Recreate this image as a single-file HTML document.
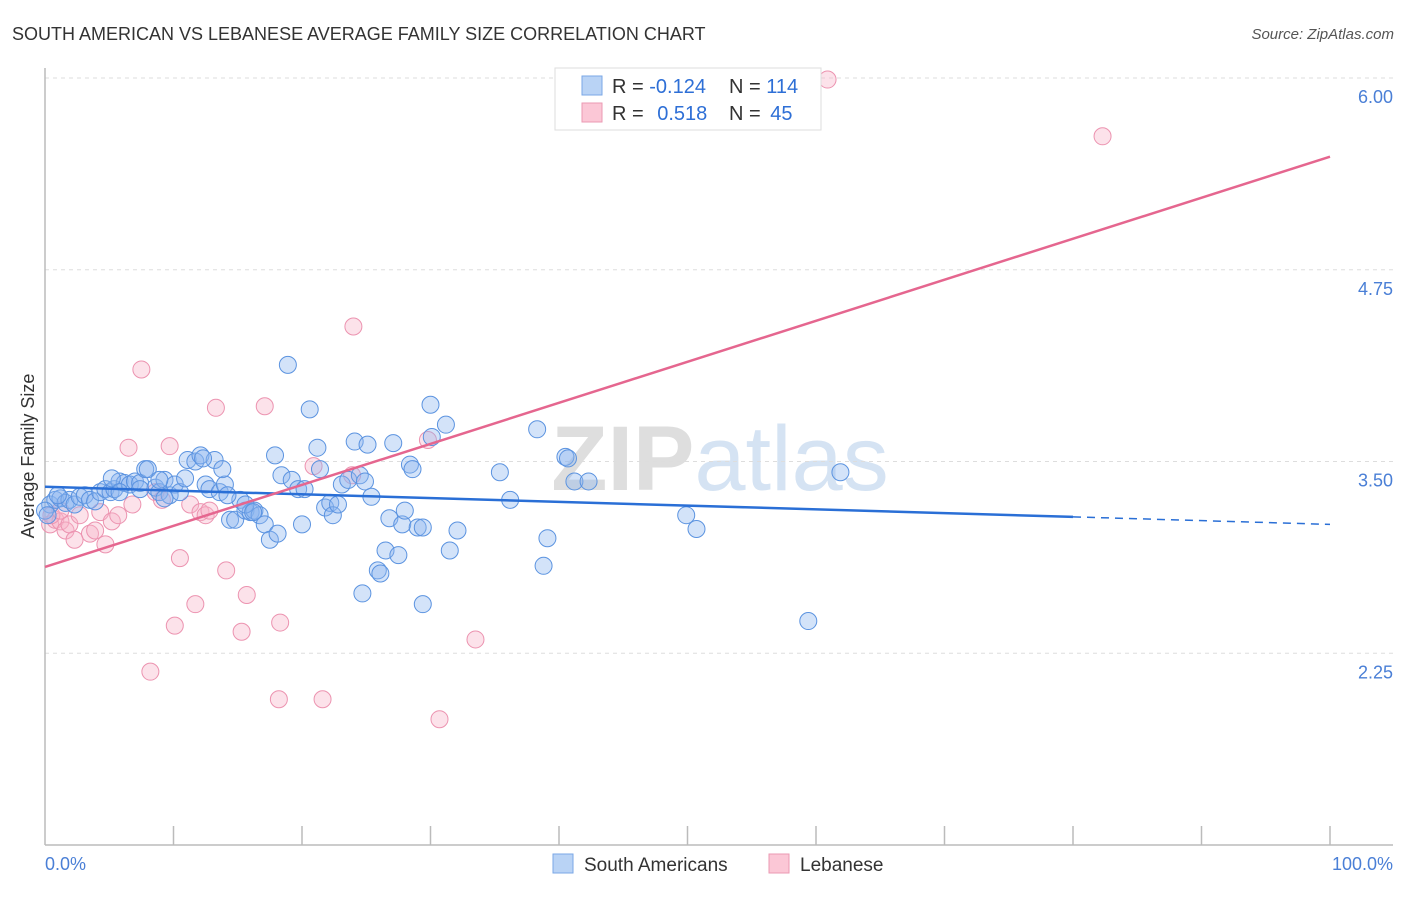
<!DOCTYPE html>
<html><head><meta charset="utf-8"><style>
body{margin:0;background:#fff;font-family:"Liberation Sans",sans-serif;}
svg text{font-family:"Liberation Sans",sans-serif;}
</style></head><body>
<svg id="chart" width="1406" height="892" xmlns="http://www.w3.org/2000/svg">
<text x="12" y="40" font-size="18" fill="#333">SOUTH AMERICAN VS LEBANESE AVERAGE FAMILY SIZE CORRELATION CHART</text>
<text x="1394" y="39" font-size="15" fill="#555" font-style="italic" text-anchor="end">Source: ZipAtlas.com</text>
<text x="720" y="490" font-size="92" text-anchor="middle" fill="#e6e6e6" font-family="Liberation Serif"><tspan font-weight="bold" fill="#dedede">ZIP</tspan><tspan fill="#d5e3f3" font-family="Liberation Sans">atlas</tspan></text>
<g id="grid"></g>
<g id="axes"></g>
<g id="pinkpts"></g>
<g id="bluepts"></g>
<g id="lines"></g>
<text transform="translate(34,456) rotate(-90)" font-size="18" fill="#333" text-anchor="middle">Average Family Size</text>
<text x="45" y="870" font-size="18" fill="#4a7fd6">0.0%</text>
<text x="1393" y="870" font-size="18" fill="#4a7fd6" text-anchor="end">100.0%</text>
<g>
<rect x="555" y="68" width="266" height="62" fill="#fff" stroke="#ddd"/>
<rect x="582" y="76" width="20" height="19" fill="#b9d3f5" stroke="#7aa7e6"/>
<rect x="582" y="103" width="20" height="19" fill="#fbc7d6" stroke="#eb9ab3"/>
<text x="612" y="93" font-size="20" fill="#333">R = <tspan fill="#2e6fd6">-0.124</tspan></text>
<text x="729" y="93" font-size="20" fill="#333">N = <tspan fill="#2e6fd6">114</tspan></text>
<text x="612" y="120" font-size="20" fill="#333">R = <tspan fill="#2e6fd6" dx="8">0.518</tspan></text>
<text x="729" y="120" font-size="20" fill="#333">N = <tspan fill="#2e6fd6" dx="4">45</tspan></text>
</g>
<g>
<rect x="553" y="854" width="20" height="19" fill="#b9d3f5" stroke="#7aa7e6"/>
<text x="584" y="871" font-size="19" fill="#333">South Americans</text>
<rect x="769" y="854" width="20" height="19" fill="#fbc7d6" stroke="#eb9ab3"/>
<text x="800" y="871" font-size="19" fill="#333">Lebanese</text>
</g>
</svg>
<script>
const yTicks=[6.00,4.75,3.50,2.25];
const yTickLabels=["6.00","4.75","3.50","2.25"];
const blueX=[0.4,0.8,1.2,1.6,1.9,2.3,2.7,3.1,3.5,3.9,4.3,4.7,5.1,5.4,5.8,6.2,6.6,7.0,7.4,7.8,8.0,8.6,8.9,9.3,9.7,10.1,10.5,10.9,11.1,11.7,12.1,12.5,12.8,13.2,13.6,14.0,14.4,14.8,15.2,15.6,16.0,16.3,16.7,17.1,17.5,17.9,18.1,18.4,18.9,19.2,19.7,20.0,20.2,20.6,21.2,21.4,21.8,22.2,22.4,22.8,23.1,23.6,24.1,24.5,24.9,25.1,25.4,25.9,26.1,26.5,26.8,27.1,27.5,27.8,28.0,28.4,28.6,29.0,29.4,29.4,30.0,30.1,31.2,31.5,32.1,35.4,36.2,38.3,38.8,39.1,40.5,40.7,41.2,42.3,49.9,50.7,59.4,61.9,24.7,0.0,0.2,1.0,5.2,5.8,12.3,13.8,14.2,15.6,16.2,7.4,8.9,9.3];
const blueY=[3.22,3.25,3.26,3.23,3.25,3.22,3.27,3.28,3.25,3.24,3.30,3.32,3.30,3.32,3.37,3.36,3.35,3.37,3.36,3.45,3.45,3.33,3.30,3.38,3.28,3.35,3.30,3.39,3.51,3.50,3.54,3.35,3.32,3.51,3.30,3.35,3.12,3.12,3.25,3.18,3.17,3.18,3.15,3.09,2.99,3.54,3.03,3.41,4.13,3.38,3.32,3.09,3.32,3.84,3.59,3.45,3.20,3.23,3.15,3.22,3.35,3.38,3.63,3.41,3.37,3.61,3.27,2.79,2.77,2.92,3.13,3.62,2.89,3.09,3.18,3.48,3.45,3.07,3.07,2.57,3.87,3.66,3.74,2.92,3.05,3.43,3.25,3.71,2.82,3.00,3.53,3.52,3.37,3.37,3.15,3.06,2.46,3.43,2.64,3.18,3.15,3.28,3.39,3.30,3.52,3.45,3.28,3.22,3.17,3.32,3.38,3.26];
const pinkX=[0.4,0.8,1.2,1.6,1.9,2.3,2.7,3.5,3.9,4.3,4.7,5.2,5.7,6.5,6.8,7.5,8.2,8.6,9.1,9.7,10.1,10.5,11.3,11.7,12.1,12.5,12.8,13.3,14.1,15.3,15.7,17.1,18.2,18.3,20.9,21.6,23.9,24.0,29.8,30.7,33.5,60.9,82.3,0.5,1.2];
const pinkY=[3.09,3.12,3.11,3.05,3.09,2.99,3.15,3.03,3.05,3.17,2.96,3.11,3.15,3.59,3.22,4.10,2.13,3.30,3.25,3.60,2.43,2.87,3.22,2.57,3.17,3.15,3.18,3.85,2.79,2.39,2.63,3.86,1.95,2.45,3.47,1.95,3.41,4.38,3.64,1.82,2.34,5.99,5.62,3.15,3.18];
const blueTrend=[3.335,-0.00245];
const pinkTrend=[2.813,0.02674];
const NS="http://www.w3.org/2000/svg";
const X0=45,X1=1330,YB=845,Y6=78;
const sx=v=>X0+(X1-X0)*v/100;
const sy=v=>YB-(YB-Y6)*(v-1)/5;
function mk(tag,attrs,parent){const e=document.createElementNS(NS,tag);for(const k in attrs)e.setAttribute(k,attrs[k]);parent.appendChild(e);return e;}
const grid=document.getElementById('grid');
yTicks.forEach((t,i)=>{
  const l=mk('line',{x1:X0,x2:1393,y1:sy(t),y2:sy(t),stroke:'#ddd','stroke-dasharray':'4,4'},grid);
  
  
  const tx=mk('text',{x:1393,y:sy(t)+25,'font-size':18,fill:'#4a7fd6','text-anchor':'end'},grid);
  tx.textContent=yTickLabels[i];
  
  
});
const axes=document.getElementById('axes');
mk('line',{x1:X0,x2:X0,y1:68,y2:YB,stroke:'#bbb','stroke-width':1.5},axes);
mk('line',{x1:X0,x2:1393,y1:YB,y2:YB,stroke:'#bbb','stroke-width':1.5},axes);
for(let i=1;i<=10;i++){
  const t=mk('line',{x1:sx(i*10),x2:sx(i*10),y1:826,y2:YB,stroke:'#bbb','stroke-width':1.5},axes);
  
  
}
const bp=document.getElementById('bluepts');
blueX.forEach((x,i)=>{
  const c=mk('circle',{cx:sx(x),cy:sy(blueY[i]),r:8.5,fill:'rgba(140,182,240,0.38)',stroke:'#5b93e0','stroke-width':1},bp);
  
  
});
const pp=document.getElementById('pinkpts');
pinkX.forEach((x,i)=>{
  const c=mk('circle',{cx:sx(x),cy:sy(pinkY[i]),r:8.5,fill:'rgba(248,178,200,0.38)',stroke:'#ec93b0','stroke-width':1},pp);
  
  
});
const lg=document.getElementById('lines');
const bt=v=>blueTrend[0]+blueTrend[1]*v, pt=v=>pinkTrend[0]+pinkTrend[1]*v;
let a=mk('line',{x1:sx(0),y1:sy(bt(0)),x2:sx(80),y2:sy(bt(80)),stroke:'#2a6fd6','stroke-width':2.5},lg);


a=mk('line',{x1:sx(80),y1:sy(bt(80)),x2:sx(100),y2:sy(bt(100)),stroke:'#2a6fd6','stroke-width':1.5,'stroke-dasharray':'8,6'},lg);


a=mk('line',{x1:sx(0),y1:sy(pt(0)),x2:sx(100),y2:sy(pt(100)),stroke:'#e5668f','stroke-width':2.5},lg);


</script>
</body></html>
